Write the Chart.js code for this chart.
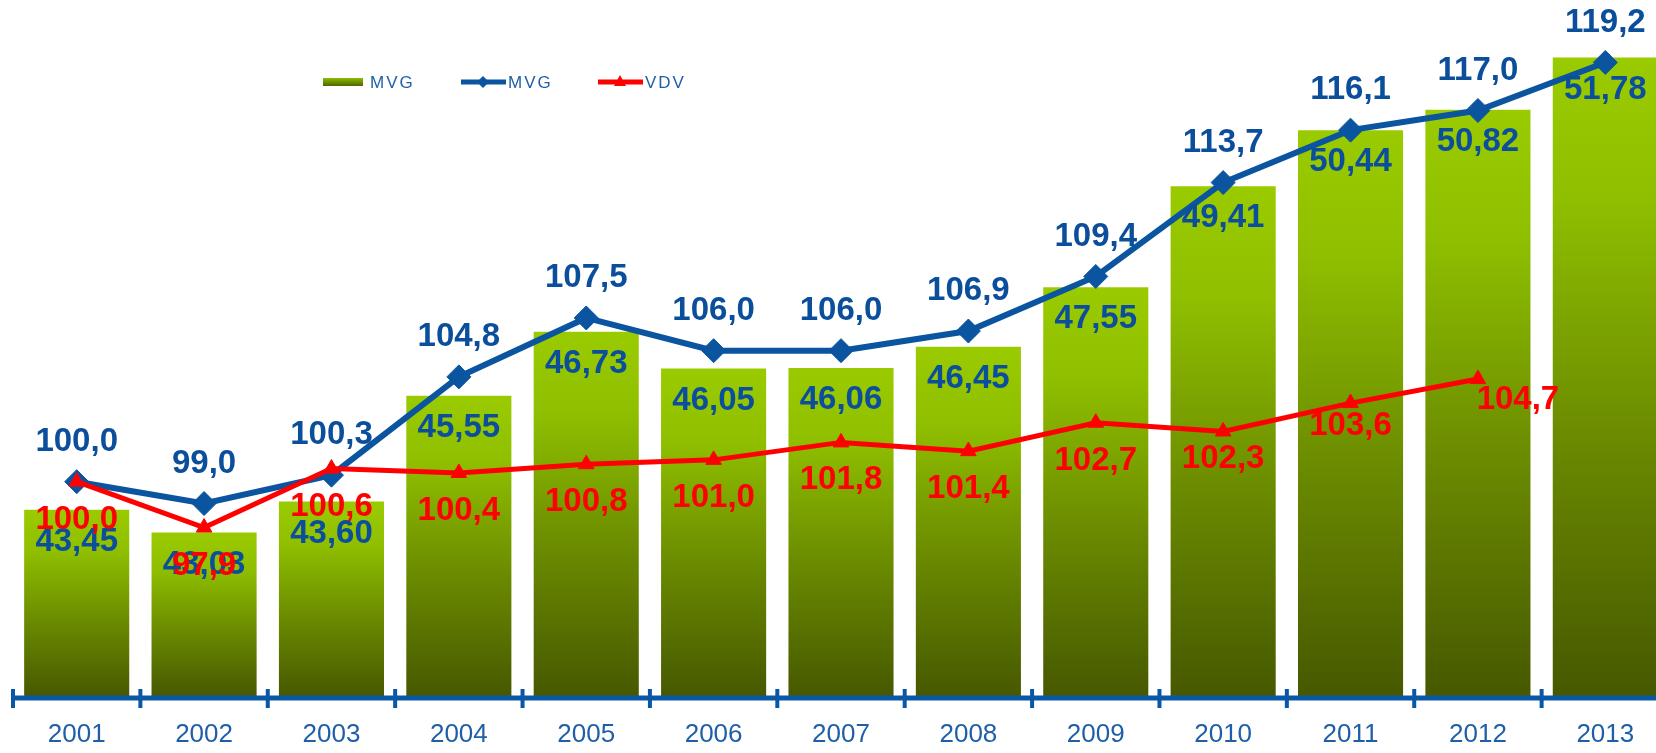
<!DOCTYPE html>
<html>
<head>
<meta charset="utf-8">
<script src="https://cdn.jsdelivr.net/npm/chart.js@4"></script>
<style>
  html, body { margin: 0; padding: 0; background: #fff; overflow: hidden; }
  #wrap { width: 1680px; height: 753px; }
</style>
</head>
<body>
<div id="wrap"><canvas id="mvgChart" width="1680" height="753"></canvas></div>
<script>
const years = ['2001', '2002', '2003', '2004', '2005', '2006', '2007', '2008', '2009', '2010', '2011', '2012', '2013'];
const mvgBars = [43.45, 43.03, 43.60, 45.55, 46.73, 46.05, 46.06, 46.45, 47.55, 49.41, 50.44, 50.82, 51.78];
const mvgIndex = [100.0, 99.0, 100.3, 104.8, 107.5, 106.0, 106.0, 106.9, 109.4, 113.7, 116.1, 117.0, 119.2];
const vdvIndex = [100.0, 97.9, 100.6, 100.4, 100.8, 101.0, 101.8, 101.4, 102.7, 102.3, 103.6, 104.7, null];

const BLUE = '#0a54a0';
const LABEL_BLUE = '#0b4f9c';
const RED = '#ff0000';
const FONT = '"Liberation Sans", Arial, sans-serif';

// per bar gradient, light green on top going to dark olive at the base
function barFill(ctx) {
  const chart = ctx.chart;
  if (!chart.chartArea || ctx.raw == null) return '#8ab800';
  const y = chart.scales.y;
  const top = y.getPixelForValue(ctx.raw);
  const base = y.getPixelForValue(y.min);
  const g = chart.ctx.createLinearGradient(0, top, 0, base);
  g.addColorStop(0, '#9acb00');
  g.addColorStop(0.22, '#8fbf00');
  g.addColorStop(0.6, '#6a8a00');
  g.addColorStop(1, '#465800');
  return g;
}

const fmt = (v, d) => v.toFixed(d).replace('.', ',');

// red labels mostly sit under the point, a few were moved by hand
const vdvShift = { 9: [0, 27], 10: [0, 23], 11: [40, 21] };

const labelsPlugin = {
  id: 'labels',
  afterDatasetsDraw(chart) {
    const c = chart.ctx;
    const x = chart.scales.x;

    // axis line with tick marks
    c.save();
    c.fillStyle = '#0a58a5';
    c.fillRect(12, 695.5, chart.width, 5);
    const step = x.getPixelForValue(1) - x.getPixelForValue(0);
    for (let i = 0; i <= years.length; i++) {
      const tx = x.getPixelForValue(0) - step / 2 + i * step;
      c.fillRect(tx - 2, 689, 4, 19);
    }
    c.restore();

    c.save();
    c.textAlign = 'center';
    c.textBaseline = 'middle';
    c.font = 'bold 33px ' + FONT;

    const bars = chart.getDatasetMeta(0).data;
    c.fillStyle = LABEL_BLUE;
    bars.forEach((el, i) => c.fillText(fmt(mvgBars[i], 2), el.x, el.y + 32));

    const blue = chart.getDatasetMeta(1).data;
    blue.forEach((el, i) => c.fillText(fmt(mvgIndex[i], 1), el.x, el.y - 40));

    const red = chart.getDatasetMeta(2).data;
    c.fillStyle = RED;
    red.forEach((el, i) => {
      if (vdvIndex[i] == null) return;
      const s = vdvShift[i] || [0, 38];
      c.fillText(fmt(vdvIndex[i], 1), el.x + s[0], el.y + s[1]);
    });
    c.restore();

    // legend
    c.save();
    const lg = c.createLinearGradient(0, 78, 0, 86);
    lg.addColorStop(0, '#8dbd00');
    lg.addColorStop(1, '#4f6600');
    c.fillStyle = lg;
    c.fillRect(323, 78, 40, 8);

    c.strokeStyle = BLUE;
    c.lineWidth = 5;
    c.beginPath(); c.moveTo(461, 82); c.lineTo(506, 82); c.stroke();
    c.fillStyle = BLUE;
    c.beginPath(); c.moveTo(483, 76); c.lineTo(489, 82); c.lineTo(483, 88); c.lineTo(477, 82); c.fill();

    c.strokeStyle = RED;
    c.beginPath(); c.moveTo(598, 82); c.lineTo(643, 82); c.stroke();
    c.fillStyle = RED;
    c.beginPath(); c.moveTo(620, 75); c.lineTo(626, 86); c.lineTo(614, 86); c.fill();

    c.fillStyle = '#1f5fa8';
    c.font = '17px ' + FONT;
    c.letterSpacing = '2px';
    c.textBaseline = 'middle';
    c.textAlign = 'left';
    c.fillText('MVG', 370, 83);
    c.fillText('MVG', 508, 83);
    c.fillText('VDV', 645, 83);
    c.restore();
  }
};

new Chart(document.getElementById('mvgChart'), {
  data: {
    labels: years,
    datasets: [
      {
        type: 'bar',
        label: 'MVG',
        data: mvgBars,
        yAxisID: 'y',
        backgroundColor: barFill,
        borderWidth: 0,
        barPercentage: 0.825,
        categoryPercentage: 1,
        order: 3
      },
      {
        type: 'line',
        label: 'MVG',
        data: mvgIndex,
        yAxisID: 'y2',
        borderColor: BLUE,
        backgroundColor: BLUE,
        borderWidth: 6,
        pointStyle: 'rectRot',
        pointRadius: 12,
        pointBorderWidth: 1,
        tension: 0,
        clip: false,
        order: 2
      },
      {
        type: 'line',
        label: 'VDV',
        data: vdvIndex,
        yAxisID: 'y2',
        borderColor: RED,
        backgroundColor: RED,
        borderWidth: 5,
        pointStyle: 'triangle',
        pointRadius: 9,
        pointBorderWidth: 1,
        tension: 0,
        clip: false,
        order: 1
      }
    ]
  },
  options: {
    responsive: false,
    animation: false,
    devicePixelRatio: 1,
    layout: { autoPadding: false, padding: { left: 13, right: 11, top: 0, bottom: 0 } },
    plugins: { legend: { display: false }, tooltip: { enabled: false } },
    scales: {
      x: {
        offset: true,
        grid: { display: false, drawTicks: false },
        border: { display: false },
        ticks: {
          color: '#1f5fa8',
          font: { family: FONT, size: 26 },
          padding: 22,
          maxRotation: 0,
          autoSkip: false
        },
        afterFit(scale) { scale.height = 56; }
      },
      y: { display: false, min: 40, max: 52.84 },
      y2: { display: false, min: 90.14, max: 122.06 }
    }
  },
  plugins: [labelsPlugin]
});
</script>
</body>
</html>
